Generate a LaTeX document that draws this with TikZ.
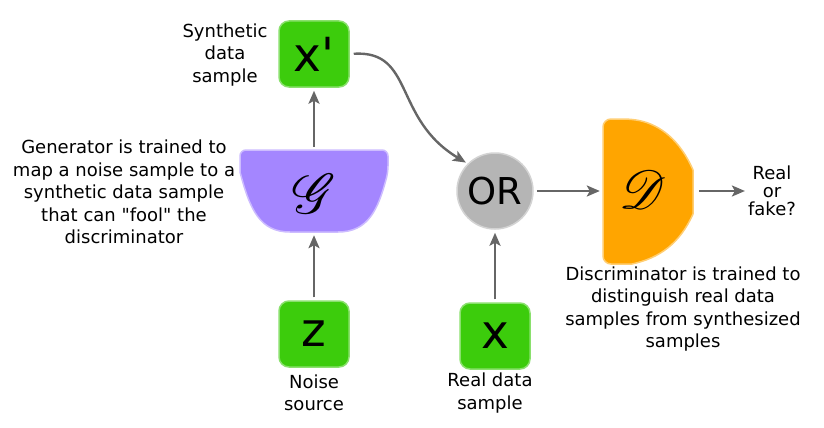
\documentclass[tikz,border=0pt]{standalone}
\usepackage{fontspec}
\setmainfont{DejaVu Sans}[Ligatures=TeXOff]
\usepackage{mathrsfs}
\usepackage{graphicx}
\usetikzlibrary{arrows.meta}
\definecolor{boxgreen}{HTML}{3CCC0C}
\definecolor{genpurple}{HTML}{A486FF}
\definecolor{discorange}{HTML}{FFA500}
\definecolor{orgray}{HTML}{B5B5B5}
\definecolor{arrgray}{HTML}{666666}
\tikzset{
  databox/.style={rectangle, rounded corners=10pt, fill=boxgreen, draw=boxgreen!60!white, line width=1.5pt,
     minimum width=70pt, minimum height=66pt, inner sep=0pt, font=\fontsize{47}{47}\selectfont},
  lbl/.style={align=center, inner sep=0pt, font=\fontsize{18}{22.5}\selectfont},
  conn/.style={draw=arrgray, line width=2.4pt, -{Stealth[length=13pt,width=11pt,inset=3pt]}, shorten <=3pt, shorten >=3pt},
  blob/.style={inner sep=0pt},
}
\begin{document}
\begin{tikzpicture}[x=1pt,y=-1pt]
\useasboundingbox (0,0) rectangle (824,428);
% generator shape
\fill[genpurple, rounded corners=6pt] (240,150) -- (388,150) -- (388,172)
   [rounded corners=0pt] .. controls (378,210) and (368,232) .. (338,232) -- (290,232)
   .. controls (260,232) and (250,210) .. (240,172) [rounded corners=6pt] -- cycle;
\draw[genpurple!55!white, line width=1.5pt, rounded corners=6pt] (240,150) -- (388,150) -- (388,172)
   [rounded corners=0pt] .. controls (378,210) and (368,232) .. (338,232) -- (290,232)
   .. controls (260,232) and (250,210) .. (240,172) [rounded corners=6pt] -- cycle;
\node[blob, minimum width=148pt, minimum height=82pt] (G) at (314,191) {};
\node[blob] (Gsym) at (314,194) {\scalebox{5.6}{$\mathscr{G}$}};
% discriminator shape
\fill[discorange, rounded corners=8pt] (603,119) -- (632,119)
   [rounded corners=0pt] .. controls (660,125) and (680,140) .. (693,170) -- (693,214)
   .. controls (680,243) and (660,258) .. (632,264) [rounded corners=8pt] -- (603,264) -- cycle;
\draw[discorange!55!white, line width=1.5pt, rounded corners=8pt] (603,119) -- (632,119)
   [rounded corners=0pt] .. controls (660,125) and (680,140) .. (693,170) -- (693,214)
   .. controls (680,243) and (660,258) .. (632,264) [rounded corners=8pt] -- (603,264) -- cycle;
\node[blob, minimum width=90pt, minimum height=145pt] (D) at (648,191) {};
\node[blob] (Dsym) at (643,190) {\scalebox{5.4}{$\mathscr{D}$}};
% OR circle
\node[circle, fill=orgray, draw=orgray!60!white, line width=1.5pt, minimum size=76pt, inner sep=0pt,
      font=\fontsize{37}{37}\selectfont] (OR) at (495,191) {OR};
% data boxes
\node[databox] (xp) at (314,54) {x'};
\node[databox] (z) at (314,334) {z};
\node[databox] (x) at (495,336) {x};
% labels
\node[lbl] (synlbl) at (225,55) {Synthetic\\data\\sample};
\node[lbl] (genlbl) at (124,192) {Generator is trained to\\map a noise sample to a\\synthetic data sample\\that can "fool" the\\discriminator};
\node[lbl] (noiselbl) at (314,393) {Noise\\source};
\node[lbl] (reallbl) at (490,393) {Real data\\sample};
\node[lbl] (disclbl) at (683,309) {Discriminator is trained to\\distinguish real data\\samples from synthesized\\samples};
\node[lbl, font=\fontsize{18}{18}\selectfont] (out) at (772,191) {Real\\or\\fake?};
% connectors
\draw[conn] (z) -- (G);
\draw[conn] (G) -- (xp);
\draw[conn] (x) -- (OR);
\draw[conn] (OR) -- (D);
\draw[conn, shorten <=6pt] (D.east) -- (out.west);
\draw[conn, shorten <=4pt, shorten >=2pt] (xp.east) .. controls +(65,-4) and +(-75,-45) .. (OR.north west);
\end{tikzpicture}
\end{document}
